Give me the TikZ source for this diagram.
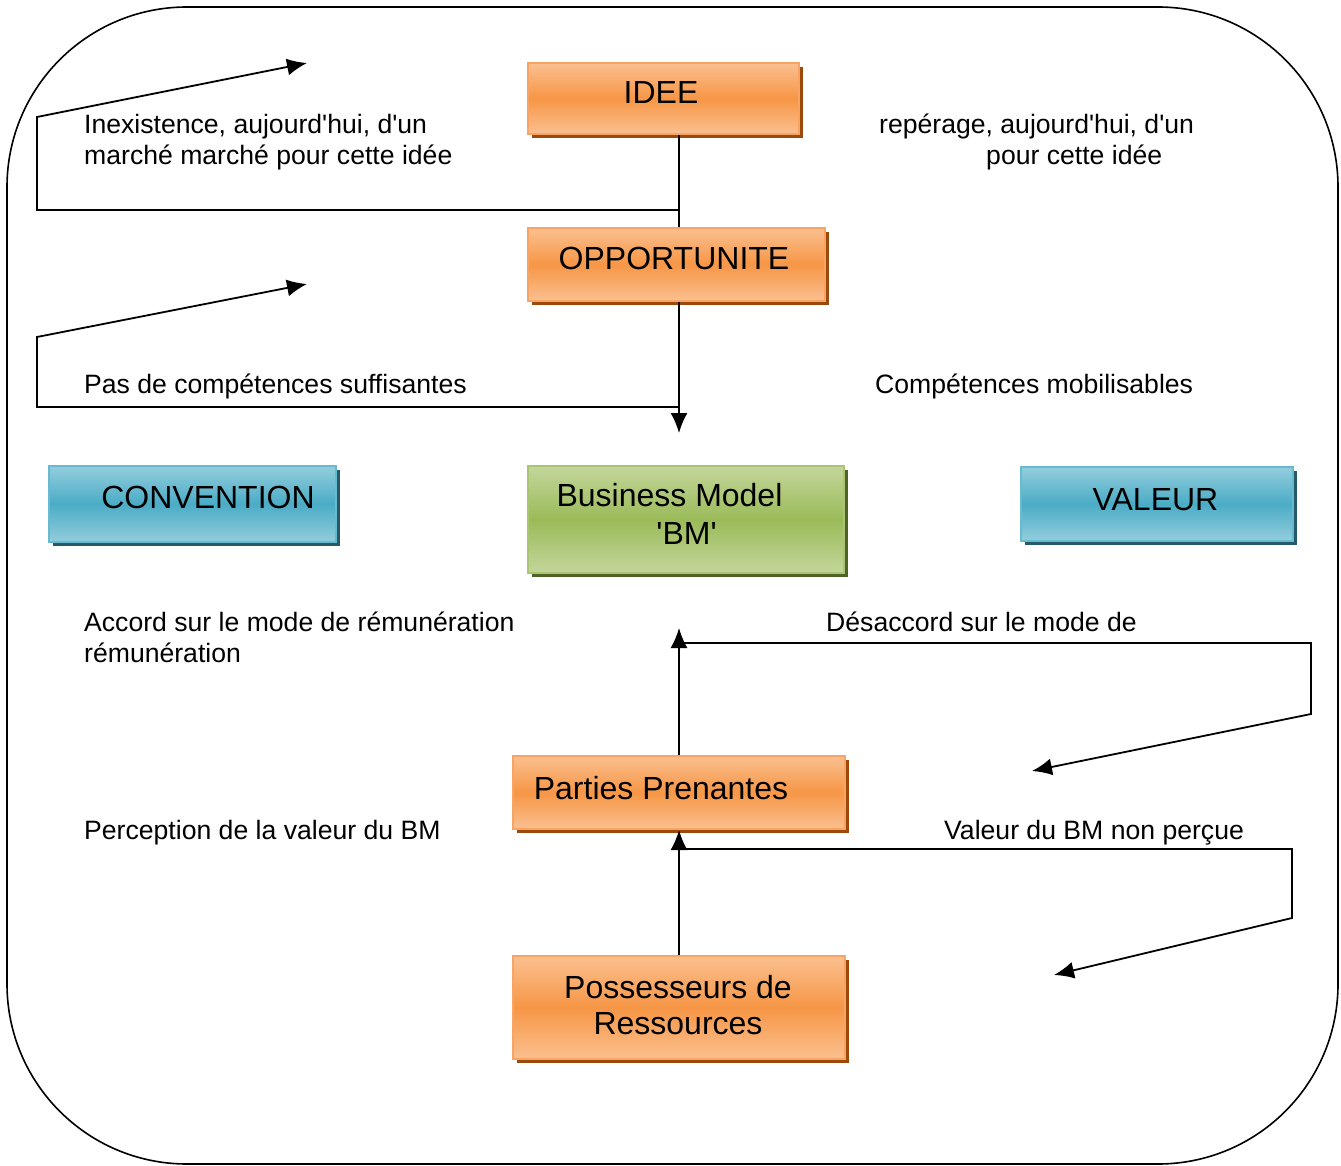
\documentclass[tikz,border=0pt]{standalone}
\usepackage{fontspec}
\setmainfont{Liberation Sans}[Ligatures=TeXOff]
\usetikzlibrary{arrows.meta,shadows}

% Office-style palette
\definecolor{orMid}{HTML}{F79646}
\definecolor{orLight}{HTML}{FAC090}
\definecolor{orEdge}{HTML}{F9A464}
\definecolor{orShadow}{HTML}{9B4A0B}
\definecolor{blMid}{HTML}{4BACC6}
\definecolor{blLight}{HTML}{93CDDD}
\definecolor{blEdge}{HTML}{66BAD1}
\definecolor{blShadow}{HTML}{255A68}
\definecolor{grMid}{HTML}{9BBB59}
\definecolor{grLight}{HTML}{C3D69B}
\definecolor{grEdge}{HTML}{AAC572}
\definecolor{grShadow}{HTML}{4F6228}

\tikzset{
  basebox/.style={rectangle, anchor=north west, line width=2pt, inner sep=0pt},
  obox/.style={basebox, draw=orEdge, top color=orLight, bottom color=orLight, middle color=orMid,
    drop shadow={shadow xshift=4pt, shadow yshift=-4pt, fill=orShadow, opacity=1}},
  bbox/.style={basebox, draw=blEdge, top color=blLight, bottom color=blLight, middle color=blMid,
    drop shadow={shadow xshift=4pt, shadow yshift=-4pt, fill=blShadow, opacity=1}},
  gbox/.style={basebox, draw=grEdge, top color=grLight, bottom color=grLight, middle color=grMid,
    drop shadow={shadow xshift=4pt, shadow yshift=-4pt, fill=grShadow, opacity=1}},
  boxtext/.style={anchor=base, inner sep=0pt, font=\fontsize{32}{38}\selectfont},
  lab/.style={anchor=base west, inner sep=0pt, font=\fontsize{26.6}{31}\selectfont},
  link/.style={line width=1.8pt, black},
  tip/.style={link, -{Latex[length=20pt, width=17pt]}},
}

\begin{document}
\begin{tikzpicture}[x=1pt, y=-1pt]
\useasboundingbox (0,0) rectangle (1341,1166);

% outer frame
\draw[line width=1.6pt, rounded corners=180pt] (7,7) rectangle (1338,1164);

% boxes
\node[obox, minimum width=271pt, minimum height=71pt] (idee) at (527,62) {};
\node[obox, minimum width=297pt, minimum height=73pt] (opp) at (527,227) {};
\node[bbox, minimum width=287pt, minimum height=76pt] (conv) at (48,465) {};
\node[gbox, minimum width=316pt, minimum height=107pt] (bm) at (527,465) {};
\node[bbox, minimum width=272pt, minimum height=74pt] (val) at (1020,466) {};
\node[obox, minimum width=332pt, minimum height=73pt] (pp) at (512,755) {};
\node[obox, minimum width=332pt, minimum height=103pt] (pos) at (512,955) {};

% box captions
\node[boxtext] (tidee) at (661,104) {IDEE};
\node[boxtext] (topp) at (674,270) {OPPORTUNITE};
\node[boxtext] (tconv) at (208,508) {CONVENTION};
\node[boxtext] (tbm1) at (669.5,506) {Business Model};
\node[boxtext] (tbm2) at (686.5,544) {'BM'};
\node[boxtext] (tval) at (1155.5,510) {VALEUR};
\node[boxtext] (tpp) at (661,799) {Parties Prenantes};
\node[boxtext] (tpos1) at (678,998) {Possesseurs de};
\node[boxtext] (tpos2) at (678,1034) {Ressources};

% side labels
\node[lab] (la1) at (84,134) {Inexistence, aujourd'hui, d'un};
\node[lab] (la2) at (84,165) {marché marché pour cette idée};
\node[lab] (ra1) at (879,134) {repérage, aujourd'hui, d'un};
\node[lab] (ra2) at (986,165) {pour cette idée};
\node[lab] (lb) at (84,393) {Pas de compétences suffisantes};
\node[lab] (rb) at (875,393) {Compétences mobilisables};
\node[lab] (lc1) at (84,631) {Accord sur le mode de rémunération};
\node[lab] (lc2) at (84,662) {rémunération};
\node[lab] (rc) at (826,631) {Désaccord sur le mode de};
\node[lab] (ld) at (84,839) {Perception de la valeur du BM};
\node[lab] (rd) at (944,839) {Valeur du BM non perçue};

% reference points of the connectors
\coordinate (spine) at (679,0);
\coordinate (j1) at (679,210);
\coordinate (c1a) at (37,210);
\coordinate (c1b) at (37,117);
\coordinate (e1) at (307,63);
\coordinate (j2) at (679,407);
\coordinate (c2a) at (37,407);
\coordinate (c2b) at (37,337);
\coordinate (e2) at (307,284);
\coordinate (bmin) at (679,433);
\coordinate (bmout) at (679,628);
\coordinate (j3) at (683,643);
\coordinate (c3a) at (1311,643);
\coordinate (c3b) at (1311,714);
\coordinate (e3) at (1032,771);
\coordinate (j4) at (683,849);
\coordinate (c4a) at (1292,849);
\coordinate (c4b) at (1292,918);
\coordinate (e4) at (1054,975);

% main flow
\draw[link] (idee.south -| spine) -- (opp.north -| spine);
\draw[tip] (opp.south -| spine) -- (bmin);
\draw[tip] (pp.north -| spine) -- (bmout);
\draw[tip] (pos.north -| spine) -- (pp.south -| spine);

% feedback loops
\draw[tip] (j1) -- (c1a) -- (c1b) -- (e1);
\draw[tip] (j2) -- (c2a) -- (c2b) -- (e2);
\draw[tip] (j3) -- (c3a) -- (c3b) -- (e3);
\draw[tip] (j4) -- (c4a) -- (c4b) -- (e4);
\end{tikzpicture}
\end{document}
